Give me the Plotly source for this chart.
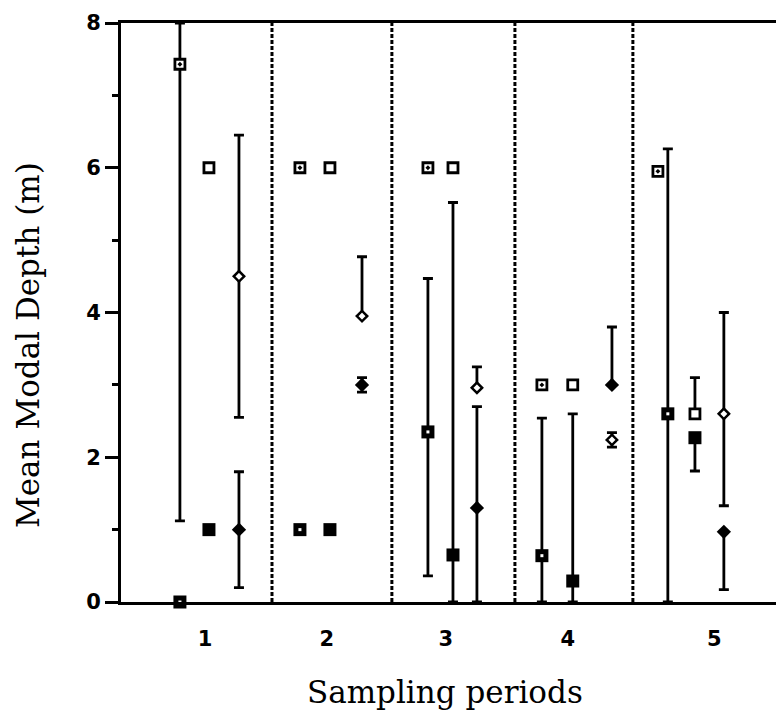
import plotly.graph_objects as go

# ---- data ----
periods = ["1", "2", "3", "4", "5"]
period_ticks = [1.0, 2.008, 2.99, 4.0, 5.21]
period_bounds = [1.554, 2.545, 3.562, 4.537]

# x positions of the three marker columns within each period
x_left_open = [0.793, 1.785, 2.843, 3.785, 4.744]
x_left_fill = [0.793, 1.785, 2.843, 3.785, 4.826]
x_mid = [1.033, 2.033, 3.05, 4.04, 5.05]
x_right = [1.281, 2.298, 3.248, 4.364, 5.289]

# open square with dot
s1_y = [7.43, 6.0, 6.0, 3.0, 5.95]
s1_plus = [0.57, 0, 0, 0, 0]
s1_minus = [6.31, 0, 0, 0, 0]
# filled square with white dot
s2_y = [0.0, 1.0, 2.35, 0.64, 2.6]
s2_plus = [0, 0, 2.12, 1.9, 3.66]
s2_minus = [0, 0, 1.99, 0.64, 2.6]
# open square
s3_y = [6.0, 6.0, 6.0, 3.0, 2.6]
s3_plus = [0, 0, 0, 0, 0.5]
s3_minus = [0, 0, 0, 0, 0]
# filled square
s4_y = [1.0, 1.0, 0.65, 0.29, 2.27]
s4_plus = [0, 0, 4.87, 2.31, 0]
s4_minus = [0, 0, 0.65, 0.29, 0.46]
# open diamond
d1_y = [4.5, 3.95, 2.96, 2.24, 2.6]
d1_plus = [1.95, 0.82, 0.29, 0.1, 1.4]
d1_minus = [1.95, 0, 0, 0.1, 1.27]
# filled diamond
d2_y = [1.0, 3.0, 1.3, 3.0, 0.97]
d2_plus = [0.8, 0.1, 1.4, 0.8, 0]
d2_minus = [0.8, 0.1, 1.3, 0, 0.8]

BLACK = "#000000"


def err(plus, minus):
    return dict(type="data", symmetric=False, array=plus, arrayminus=minus,
                color=BLACK, thickness=2.8, width=5)


fig = go.Figure()

fig.add_trace(go.Scatter(x=x_left_fill, y=s2_y, mode="markers", cliponaxis=False,
                         error_y=err(s2_plus, s2_minus),
                         marker=dict(symbol="square", size=13, color=BLACK,
                                     line=dict(width=0))))
fig.add_trace(go.Scatter(x=x_left_fill, y=s2_y, mode="markers", cliponaxis=False,
                         marker=dict(symbol="square", size=3, color="white",
                                     line=dict(width=0))))
fig.add_trace(go.Scatter(x=x_left_open, y=s1_y, mode="markers", cliponaxis=False,
                         error_y=err(s1_plus, s1_minus),
                         marker=dict(symbol="square-dot", size=10, color="white",
                                     line=dict(width=2.8, color=BLACK))))
fig.add_trace(go.Scatter(x=x_mid, y=s4_y, mode="markers", cliponaxis=False,
                         error_y=err(s4_plus, s4_minus),
                         marker=dict(symbol="square", size=13, color=BLACK,
                                     line=dict(width=0))))
fig.add_trace(go.Scatter(x=x_mid, y=s3_y, mode="markers", cliponaxis=False,
                         error_y=err(s3_plus, s3_minus),
                         marker=dict(symbol="square", size=10, color="white",
                                     line=dict(width=2.8, color=BLACK))))
fig.add_trace(go.Scatter(x=x_right, y=d2_y, mode="markers", cliponaxis=False,
                         error_y=err(d2_plus, d2_minus),
                         marker=dict(symbol="diamond", size=11, color=BLACK,
                                     line=dict(width=0))))
fig.add_trace(go.Scatter(x=x_right, y=d1_y, mode="markers", cliponaxis=False,
                         error_y=err(d1_plus, d1_minus),
                         marker=dict(symbol="diamond", size=8, color="white",
                                     line=dict(width=2.5, color=BLACK))))

for b in period_bounds:
    fig.add_shape(type="line", xref="x", yref="y", x0=b, x1=b, y0=0, y1=8,
                  line=dict(color=BLACK, width=3, dash="4px,2px"), layer="below")

tick_font = dict(family="DejaVu Sans", size=21, color=BLACK, weight="bold")
title_font = dict(family="DejaVu Serif", size=31, color=BLACK)

fig.update_layout(
    width=776, height=715,
    margin=dict(l=121, r=0, t=23, b=113),
    paper_bgcolor="white", plot_bgcolor="white",
    showlegend=False,
    xaxis=dict(range=[0.306, 5.72], showgrid=False, zeroline=False,
               showline=True, linewidth=3, linecolor=BLACK, mirror=True,
               tickmode="array", tickvals=period_ticks, ticktext=periods,
               ticks="outside", ticklen=16, tickcolor="rgba(0,0,0,0)",
               tickfont=tick_font),
    yaxis=dict(range=[0, 8], showgrid=False, zeroline=False,
               showline=True, linewidth=3, linecolor=BLACK,
               tickmode="array", tickvals=[0, 2, 4, 6, 8],
               ticks="outside", ticklen=13, tickwidth=2.5, tickcolor=BLACK,
               minor=dict(tickvals=[1, 3, 5, 7], ticks="outside", ticklen=6,
                          tickwidth=2.5, tickcolor=BLACK),
               tickfont=tick_font),
    annotations=[
        dict(text="Sampling periods", xref="paper", yref="paper",
             x=(445 - 121) / 655, y=-(692 - 602) / 579, xanchor="center",
             yanchor="middle", showarrow=False, font=title_font),
        dict(text="Mean Modal Depth (m)", xref="paper", yref="paper",
             x=-(121 - 28) / 655, y=(602 - 345) / 579, xanchor="center",
             yanchor="middle", textangle=-90, showarrow=False, font=title_font),
    ],
)

fig.write_html("out.html")
